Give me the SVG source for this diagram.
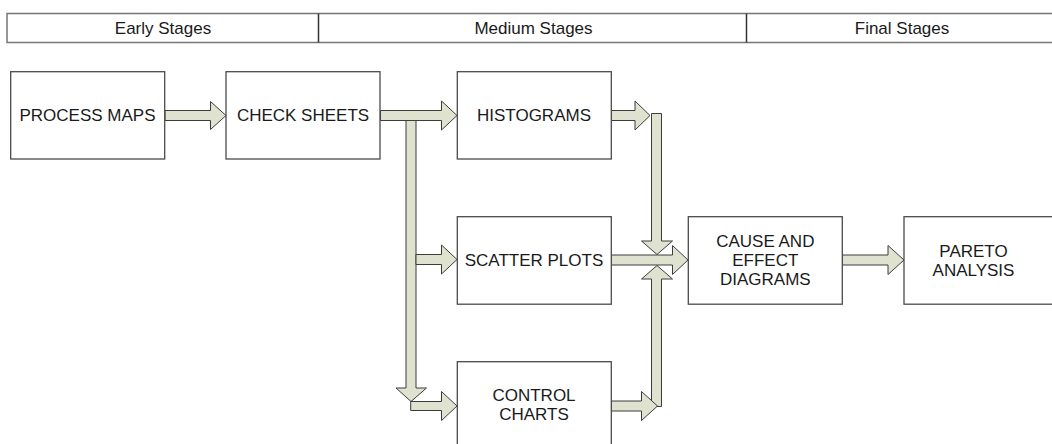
<svg xmlns="http://www.w3.org/2000/svg" width="1052" height="444" viewBox="0 0 1052 444">
  <style>
    .hdr { fill: #ffffff; stroke: #767676; stroke-width: 1.5; }
    .sep { stroke: #333333; stroke-width: 1.5; }
    .box { fill: #ffffff; stroke: #4a4a4a; stroke-width: 1.3; }
    .lbl { font-family: "Liberation Sans", Arial, sans-serif; font-size: 17px; fill: #1a1a1a; text-anchor: middle; }
    .arr { fill: #dfe2cf; stroke: #3c3c3c; stroke-width: 1; stroke-linejoin: miter; }
  </style>

  <rect width="1052" height="444" fill="#ffffff"/>

  <!-- stage header band -->
  <g id="stages">
    <rect class="hdr" x="7" y="13.5" width="1060" height="29"/>
    <line class="sep" x1="318.5" y1="13.5" x2="318.5" y2="42.5"/>
    <line class="sep" x1="746.5" y1="13.5" x2="746.5" y2="42.5"/>
    <text class="lbl" x="163" y="33.5">Early Stages</text>
    <text class="lbl" x="533.5" y="33.5">Medium Stages</text>
    <text class="lbl" x="902" y="33.5">Final Stages</text>
  </g>

  <!-- block arrows -->
  <g id="connectors">
    <!-- process maps to check sheets -->
    <polygon class="arr" points="165,110.5 210.5,110.5 210.5,101.5 226,115.5 210.5,129.5 210.5,120.5 165,120.5"/>
    <!-- check sheets to histograms -->
    <polygon class="arr" points="380.5,110.5 441.5,110.5 441.5,101 457,115.5 441.5,130 441.5,120.5 380.5,120.5"/>
    <!-- trunk down from check sheets -->
    <polygon class="arr" points="406,120.5 416,120.5 416,388 426.5,388 411,401.5 396,388 406,388"/>
    <!-- trunk to scatter plots -->
    <polygon class="arr" points="416,254.5 441.5,254.5 441.5,245 457,259.5 441.5,274 441.5,264.5 416,264.5"/>
    <!-- trunk to control charts -->
    <polygon class="arr" points="410.7,401.5 441.5,401.5 441.5,391.5 457,406 441.5,420.5 441.5,410.5 410.7,410.5"/>
    <!-- histograms out -->
    <polygon class="arr" points="611.5,110.5 635,110.5 635,101 650,115.5 635,130 635,120.5 611.5,120.5"/>
    <!-- downward bar into cause and effect -->
    <polygon class="arr" points="651.5,113.5 661.5,113.5 661.5,241 672.5,241 657,254.5 641.5,241 651.5,241"/>
    <!-- upward bar into cause and effect -->
    <polygon class="arr" points="651.5,406.5 651.5,279 641.5,279 657,265.5 672.5,279 661.5,279 661.5,406.5"/>
    <!-- control charts out -->
    <polygon class="arr" points="611.5,401 641.5,401 641.5,391.5 657.5,406 641.5,420.5 641.5,411 611.5,411"/>
    <!-- scatter plots into cause and effect -->
    <polygon class="arr" points="611.5,255 672.5,255 672.5,245.5 688,260 672.5,274.5 672.5,265 611.5,265"/>
    <!-- cause and effect to pareto -->
    <polygon class="arr" points="842.5,255 888,255 888,245.5 904,260 888,274.5 888,265 842.5,265"/>
  </g>

  <g id="process-maps">
    <rect class="box" x="10.7" y="71.7" width="154" height="87.3"/>
    <text class="lbl" x="87.5" y="121">PROCESS MAPS</text>
  </g>
  <g id="check-sheets">
    <rect class="box" x="226" y="71.7" width="154" height="87.3"/>
    <text class="lbl" x="303" y="121">CHECK SHEETS</text>
  </g>
  <g id="histograms">
    <rect class="box" x="457.3" y="71.7" width="154" height="87.3"/>
    <text class="lbl" x="534" y="121.3">HISTOGRAMS</text>
  </g>
  <g id="scatter-plots">
    <rect class="box" x="457.3" y="216.7" width="154" height="87.5"/>
    <text class="lbl" x="534" y="265.5">SCATTER PLOTS</text>
  </g>
  <g id="control-charts">
    <rect class="box" x="457.3" y="361.7" width="154" height="100"/>
    <text class="lbl" x="534" y="401">CONTROL</text>
    <text class="lbl" x="534" y="419.5">CHARTS</text>
  </g>
  <g id="cause-and-effect">
    <rect class="box" x="688.3" y="216.7" width="154" height="87.5"/>
    <text class="lbl" x="765.3" y="246.5">CAUSE AND</text>
    <text class="lbl" x="765.3" y="265.7">EFFECT</text>
    <text class="lbl" x="765.3" y="285">DIAGRAMS</text>
  </g>
  <g id="pareto-analysis">
    <rect class="box" x="904" y="216.7" width="160" height="87.5"/>
    <text class="lbl" x="973.5" y="256.5">PARETO</text>
    <text class="lbl" x="973.5" y="276.3">ANALYSIS</text>
  </g>
</svg>
